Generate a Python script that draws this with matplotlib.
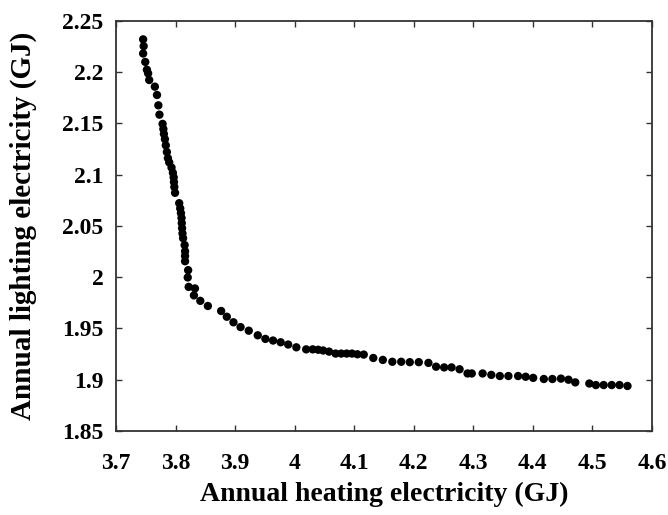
import matplotlib
matplotlib.use("Agg")
import matplotlib.pyplot as plt

heating = [3.7455, 3.7464, 3.7455, 3.7491, 3.7518, 3.7539, 3.7557, 3.7652, 3.7688, 3.7711,
           3.7729, 3.7782, 3.7795, 3.7804, 3.7821, 3.7836, 3.7854, 3.7871, 3.7893, 3.7932,
           3.7955, 3.7968, 3.7973, 3.7979, 3.7991, 3.8061, 3.8078, 3.8090, 3.8100, 3.8104,
           3.8109, 3.8116, 3.8126, 3.8152, 3.8159, 3.8159, 3.8159, 3.8211, 3.8204, 3.8220,
           3.8325, 3.8308, 3.8415, 3.8542, 3.8765, 3.8860, 3.8972, 3.9091, 3.9229, 3.9380,
           3.9508, 3.9637, 3.9765, 3.9891, 4.0028, 4.0193, 4.0303, 4.0395, 4.0478, 4.0577,
           4.0687, 4.0781, 4.0873, 4.0962, 4.1053, 4.1160, 4.1320, 4.1480, 4.1640, 4.1789,
           4.1933, 4.2084, 4.2246, 4.2375, 4.2510, 4.2634, 4.2769, 4.2903, 4.2974, 4.3156,
           4.3302, 4.3445, 4.3589, 4.3752, 4.3879, 4.4005, 4.4184, 4.4328, 4.4471, 4.4598,
           4.4712, 4.4948, 4.5058, 4.5189, 4.5324, 4.5455, 4.5589]

lighting = [2.2318, 2.2252, 2.2180, 2.2098, 2.2022, 2.1987, 2.1922, 2.1857, 2.1776, 2.1675,
            2.1584, 2.1494, 2.1444, 2.1396, 2.1345, 2.1285, 2.1220, 2.1160, 2.1119, 2.1068,
            2.1017, 2.0973, 2.0927, 2.0879, 2.0822, 2.0721, 2.0670, 2.0624, 2.0577, 2.0527,
            2.0477, 2.0426, 2.0380, 2.0313, 2.0252, 2.0206, 2.0155, 2.0068, 1.9997, 1.9905,
            1.9890, 1.9822, 1.9769, 1.9719, 1.9670, 1.9614, 1.9560, 1.9513, 1.9478, 1.9433,
            1.9398, 1.9382, 1.9365, 1.9343, 1.9316, 1.9296, 1.9296, 1.9292, 1.9285, 1.9274,
            1.9255, 1.9255, 1.9255, 1.9255, 1.9248, 1.9245, 1.9212, 1.9193, 1.9175, 1.9175,
            1.9171, 1.9171, 1.9164, 1.9127, 1.9120, 1.9120, 1.9102, 1.9061, 1.9061, 1.9061,
            1.9047, 1.9036, 1.9036, 1.9036, 1.9029, 1.9018, 1.9007, 1.9007, 1.9011, 1.9000,
            1.8974, 1.8963, 1.8948, 1.8948, 1.8948, 1.8948, 1.8939]

xticks = [3.7, 3.8, 3.9, 4.0, 4.1, 4.2, 4.3, 4.4, 4.5, 4.6]
xticklabels = ["3.7", "3.8", "3.9", "4", "4.1", "4.2", "4.3", "4.4", "4.5", "4.6"]
yticks = [1.85, 1.9, 1.95, 2.0, 2.05, 2.1, 2.15, 2.2, 2.25]
yticklabels = ["1.85", "1.9", "1.95", "2", "2.05", "2.1", "2.15", "2.2", "2.25"]

plt.rcParams['font.family'] = ['Liberation Serif', 'DejaVu Serif']

fig = plt.figure(figsize=(6.68, 5.15), dpi=100)
ax = fig.add_axes([0.1737, 0.1631, 0.976 - 0.1737, 0.9598 - 0.1631])

ax.scatter(heating, lighting, s=36, color='black', edgecolors='none', zorder=3)

ax.set_xlim(3.7, 4.6)
ax.set_ylim(1.85, 2.25)
ax.set_xticks(xticks)
ax.set_xticklabels(xticklabels)
ax.set_yticks(yticks)
ax.set_yticklabels(yticklabels)

ax.tick_params(direction='in', length=4, width=1, color='#333333',
               top=True, right=True, labelsize=17)
ax.tick_params(axis='x', pad=16)
ax.tick_params(axis='y', pad=9)
for lab in ax.get_xticklabels() + ax.get_yticklabels():
    lab.set_fontweight('bold')

for sp in ax.spines.values():
    sp.set_color('#333333')
    sp.set_linewidth(1.3)

ax.set_xlabel("Annual heating electricity (GJ)", fontsize=20, fontweight='bold')
ax.set_ylabel("Annual lighting electricity (GJ)", fontsize=21, fontweight='bold')
ax.xaxis.set_label_coords(0.5, -0.125)
ax.yaxis.set_label_coords(-0.148, 0.5)

fig.savefig("out.png", dpi=100)
